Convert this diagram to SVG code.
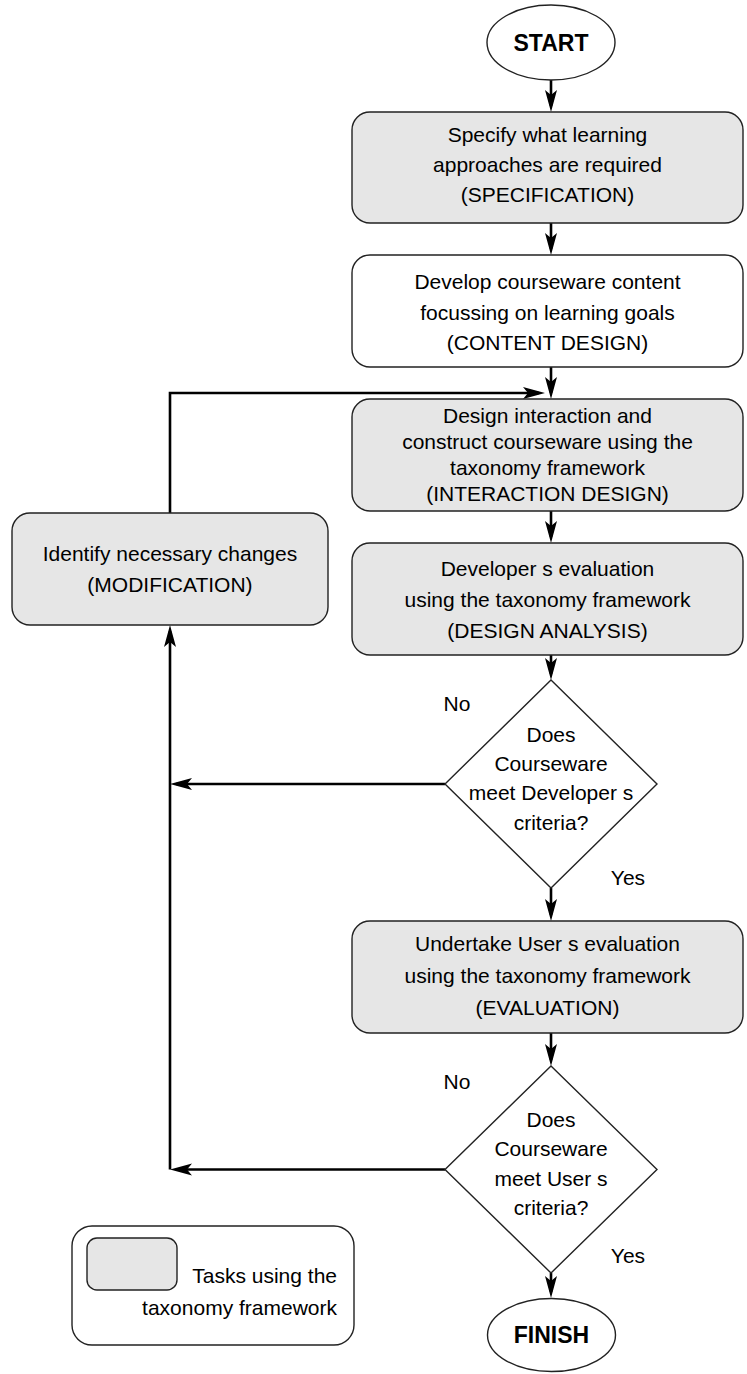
<svg xmlns="http://www.w3.org/2000/svg" width="747" height="1374" viewBox="0 0 747 1374">
<style>
text{font-family:"Liberation Sans",Arial,sans-serif;font-size:21px;fill:#000;text-anchor:middle}
.b{font-weight:bold;font-size:23px}
.task{fill:#e6e6e6;stroke:#222;stroke-width:1.4}
.plain{fill:#fff;stroke:#222;stroke-width:1.4}
.conn{fill:none;stroke:#000;stroke-width:2.6;marker-end:url(#ah)}
.line{fill:none;stroke:#000;stroke-width:2.6}
</style>
<defs>
<marker id="ah" markerUnits="userSpaceOnUse" markerWidth="24" markerHeight="14" viewBox="0 0 24 14" refX="16" refY="7" orient="auto">
<path d="M0,1 L22,7 L0,13 L5,7 Z" fill="#000"/>
</marker>
</defs>
<g id="connectors">
<path class="conn" d="M551,80 V106"/>
<path class="conn" d="M551,223 V249"/>
<path class="conn" d="M551,367 V393"/>
<path class="conn" d="M170,513 V393 H539"/>
<path class="conn" d="M551,511 V537"/>
<path class="conn" d="M551,655 V674"/>
<path class="conn" d="M445,784 H176"/>
<path class="conn" d="M551,888 V915"/>
<path class="conn" d="M551,1033 V1060"/>
<path class="conn" d="M445,1169.5 H176"/>
<path class="conn" d="M170,1169.5 V631"/>
<path class="conn" d="M551,1273 V1292"/>
</g>
<g id="start">
<ellipse class="plain" cx="551" cy="42.5" rx="64" ry="37.5"/>
<text class="b" x="551" y="50.5">START</text>
</g>
<g id="specification">
<rect class="task" x="352" y="112" width="391" height="111" rx="18"/>
<text x="547.5" y="142">Specify what learning</text>
<text x="547.5" y="172">approaches are required</text>
<text x="547.5" y="202">(SPECIFICATION)</text>
</g>
<g id="content-design">
<rect class="plain" x="352" y="255" width="391" height="112" rx="18"/>
<text x="547.5" y="289">Develop courseware content</text>
<text x="547.5" y="319.5">focussing on learning goals</text>
<text x="547.5" y="350">(CONTENT DESIGN)</text>
</g>
<g id="interaction-design">
<rect class="task" x="352" y="399" width="391" height="112" rx="18"/>
<text x="547.5" y="423">Design interaction and</text>
<text x="547.5" y="449">construct courseware using the</text>
<text x="547.5" y="475">taxonomy framework</text>
<text x="547.5" y="501">(INTERACTION DESIGN)</text>
</g>
<g id="design-analysis">
<rect class="task" x="352" y="543" width="391" height="112" rx="18"/>
<text x="547.5" y="576">Developer s evaluation</text>
<text x="547.5" y="607">using the taxonomy framework</text>
<text x="547.5" y="638">(DESIGN ANALYSIS)</text>
</g>
<g id="modification">
<rect class="task" x="12" y="513" width="316" height="112" rx="18"/>
<text x="170" y="561">Identify necessary changes</text>
<text x="170" y="592">(MODIFICATION)</text>
</g>
<g id="developer-criteria">
<polygon class="plain" points="551,680 657,784 551,888 445,784"/>
<text x="551" y="741.5">Does</text>
<text x="551" y="770.5">Courseware</text>
<text x="551" y="800">meet Developer s</text>
<text x="551" y="830">criteria?</text>
<text x="457" y="710.5">No</text>
<text x="628" y="884.5">Yes</text>
</g>
<g id="evaluation">
<rect class="task" x="352" y="921" width="391" height="112" rx="18"/>
<text x="547.5" y="950.5">Undertake User s evaluation</text>
<text x="547.5" y="982.5">using the taxonomy framework</text>
<text x="547.5" y="1014.5">(EVALUATION)</text>
</g>
<g id="user-criteria">
<polygon class="plain" points="551,1066 657,1169.5 551,1273 445,1169.5"/>
<text x="551" y="1127">Does</text>
<text x="551" y="1156">Courseware</text>
<text x="551" y="1186">meet User s</text>
<text x="551" y="1215">criteria?</text>
<text x="457" y="1089">No</text>
<text x="628" y="1262.5">Yes</text>
</g>
<g id="finish">
<ellipse class="plain" cx="551.5" cy="1335" rx="64" ry="36.5"/>
<text class="b" x="551.5" y="1343">FINISH</text>
</g>
<g id="legend">
<rect class="plain" x="72" y="1226" width="282" height="119" rx="20"/>
<rect class="task" x="87" y="1238" width="90" height="52" rx="10"/>
<text x="337" y="1283" style="text-anchor:end">Tasks using the</text>
<text x="337" y="1315" style="text-anchor:end">taxonomy framework</text>
</g>
</svg>
